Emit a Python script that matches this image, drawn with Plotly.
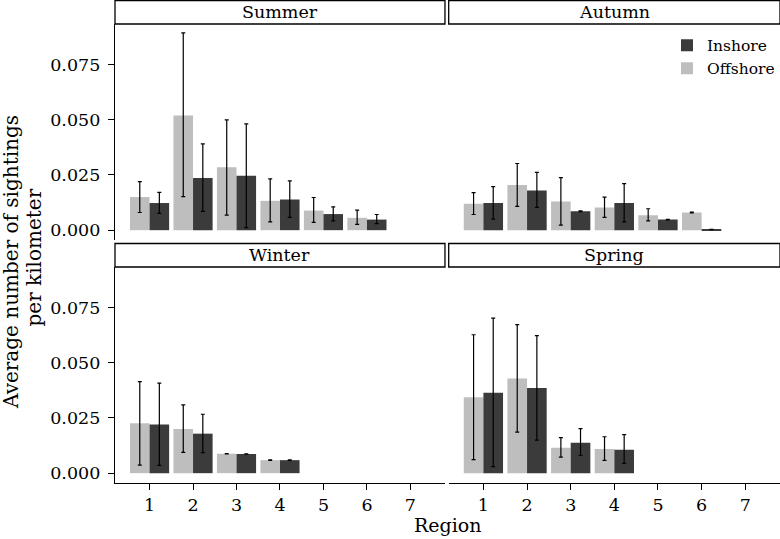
import plotly.graph_objects as go
from plotly.subplots import make_subplots

# Regions on the x axis
regions = [1, 2, 3, 4, 5, 6, 7]

# Summer
summer_off = [0.0150, 0.0519, 0.0285, 0.0133, 0.0089, 0.0056, None]
summer_off_lo = [0.0080, 0.0152, 0.0068, 0.0038, 0.0035, 0.0026, None]
summer_off_hi = [0.0220, 0.0894, 0.0500, 0.0232, 0.0148, 0.0091, None]
summer_in = [0.0123, 0.0236, 0.0247, 0.0139, 0.0073, 0.0048, None]
summer_in_lo = [0.0076, 0.0085, 0.0012, 0.0058, 0.0042, 0.0030, None]
summer_in_hi = [0.0171, 0.0391, 0.0482, 0.0223, 0.0106, 0.0071, None]

# Autumn
autumn_off = [0.0120, 0.0205, 0.0130, 0.0103, 0.0068, 0.0080, None]
autumn_off_lo = [0.0071, 0.0108, 0.0023, 0.0058, 0.0042, 0.0078, None]
autumn_off_hi = [0.0170, 0.0302, 0.0238, 0.0150, 0.0097, 0.0082, None]
autumn_in = [0.0123, 0.0180, 0.0086, 0.0123, 0.0048, 0.0003, None]
autumn_in_lo = [0.0050, 0.0103, 0.0084, 0.0038, 0.0047, 0.0002, None]
autumn_in_hi = [0.0197, 0.0262, 0.0088, 0.0211, 0.0049, 0.0004, None]

# Winter
winter_off = [0.0226, 0.0200, 0.0088, 0.0059, None, None, None]
winter_off_lo = [0.0036, 0.0094, 0.0087, 0.0058, None, None, None]
winter_off_hi = [0.0415, 0.0309, 0.0089, 0.0060, None, None, None]
winter_in = [0.0221, 0.0179, 0.0087, 0.0059, None, None, None]
winter_in_lo = [0.0035, 0.0093, 0.0086, 0.0058, None, None, None]
winter_in_hi = [0.0408, 0.0267, 0.0088, 0.0060, None, None, None]

# Spring
spring_off = [0.0344, 0.0429, 0.0115, 0.0109, None, None, None]
spring_off_lo = [0.0061, 0.0186, 0.0073, 0.0058, None, None, None]
spring_off_hi = [0.0627, 0.0673, 0.0161, 0.0165, None, None, None]
spring_in = [0.0364, 0.0386, 0.0138, 0.0106, None, None, None]
spring_in_lo = [0.0030, 0.0150, 0.0080, 0.0044, None, None, None]
spring_in_hi = [0.0702, 0.0623, 0.0202, 0.0175, None, None, None]

yticks = [0.0, 0.025, 0.05, 0.075]

FONT = "DejaVu Serif"
OFF_COLOR = "#bebebe"
IN_COLOR = "#3b3b3b"


def up(mean, hi):
    return [None if m is None else h - m for m, h in zip(mean, hi)]


def down(mean, lo):
    return [None if m is None else m - l for m, l in zip(mean, lo)]


panels = [
    ("Summer", 1, 1, summer_off, summer_off_lo, summer_off_hi, summer_in, summer_in_lo, summer_in_hi),
    ("Autumn", 1, 2, autumn_off, autumn_off_lo, autumn_off_hi, autumn_in, autumn_in_lo, autumn_in_hi),
    ("Winter", 2, 1, winter_off, winter_off_lo, winter_off_hi, winter_in, winter_in_lo, winter_in_hi),
    ("Spring", 2, 2, spring_off, spring_off_lo, spring_off_hi, spring_in, spring_in_lo, spring_in_hi),
]

fig = make_subplots(rows=2, cols=2)

for i, (name, r, c, off, off_lo, off_hi, inn, in_lo, in_hi) in enumerate(panels):
    first = i == 0
    fig.add_trace(go.Bar(
        x=regions, y=off, name="Offshore", legendgroup="off", showlegend=first,
        marker=dict(color=OFF_COLOR, line=dict(width=0)),
        error_y=dict(type="data", symmetric=False, array=up(off, off_hi),
                     arrayminus=down(off, off_lo), color="black", thickness=1.2, width=2),
    ), row=r, col=c)
    fig.add_trace(go.Bar(
        x=regions, y=inn, name="Inshore", legendgroup="in", showlegend=first,
        marker=dict(color=IN_COLOR, line=dict(width=0)),
        error_y=dict(type="data", symmetric=False, array=up(inn, in_hi),
                     arrayminus=down(inn, in_lo), color="black", thickness=1.2, width=2),
    ), row=r, col=c)

# panel placement
xdom_left = [0, 0.4962]
xdom_right = [0.5018, 1]
ydom_top = [0.5294, 1]
ydom_bot = [0, 0.4706]

axis_font = dict(family=FONT, size=17.5, color="black")

for idx, (name, r, c, *_rest) in enumerate(panels):
    n = "" if idx == 0 else str(idx + 1)
    xd = xdom_left if c == 1 else xdom_right
    yd = ydom_top if r == 1 else ydom_bot
    bottom = r == 2
    left = c == 1
    fig.layout["xaxis" + n].update(
        domain=xd, range=[0.205, 7.795], tickvals=regions, showgrid=False, zeroline=False,
        showline=bottom, linecolor="black", linewidth=1.3,
        ticks="outside" if bottom else "", ticklen=6, tickcolor="black", tickwidth=1.2,
        showticklabels=bottom, tickfont=axis_font,
    )
    fig.layout["yaxis" + n].update(
        domain=yd, range=[-0.00445, 0.0934], tickvals=yticks, tickformat=".3f",
        showgrid=False, zeroline=False,
        showline=left, linecolor="black", linewidth=1.3,
        ticks="outside" if left else "", ticklen=6, tickcolor="black", tickwidth=1.2,
        showticklabels=left, tickfont=axis_font, ticklabelstandoff=4,
    )
    # strip header
    strip_h = 23.5 / 216
    fig.add_shape(type="rect", xref="x" + n + " domain", yref="y" + n + " domain",
                  x0=0, x1=1, y0=1, y1=1 + strip_h,
                  line=dict(color="black", width=1.3), fillcolor="white", layer="above")
    fig.add_annotation(text=name, xref="x" + n + " domain", yref="y" + n + " domain",
                       x=0.5, y=1 + strip_h / 2, xanchor="center", yanchor="middle",
                       showarrow=False, font=dict(family=FONT, size=17.5, color="black"))

fig.add_annotation(text="Average number of sightings", xref="paper", yref="paper",
                   x=-0.1564, y=0.4815, xanchor="center", yanchor="middle", textangle=-90,
                   showarrow=False, font=dict(family=FONT, size=20, color="black"))
fig.add_annotation(text="per kilometer", xref="paper", yref="paper",
                   x=-0.1218, y=0.4913, xanchor="center", yanchor="middle", textangle=-90,
                   showarrow=False, font=dict(family=FONT, size=20, color="black"))
fig.add_annotation(text="Region", xref="paper", yref="paper", x=0.5, y=-0.0915,
                   xanchor="center", yanchor="middle", showarrow=False,
                   font=dict(family=FONT, size=19, color="black"))

fig.update_layout(
    width=780, height=539,
    margin=dict(l=115, r=0, t=24, b=56),
    paper_bgcolor="white", plot_bgcolor="white",
    barmode="group", bargap=0.1, bargroupgap=0,
    showlegend=True,
    legend=dict(x=1.0, xanchor="right", y=0.99, yanchor="top", traceorder="reversed",
                font=dict(family=FONT, size=15.5, color="black"), bgcolor="rgba(0,0,0,0)"),
    font=dict(family=FONT, color="black"),
)

# drop the browser's default 8px page margin so the figure sits at the window corner
fig.write_html("out.html", config={"displayModeBar": False},
               post_script="document.body.style.margin = '0';")
